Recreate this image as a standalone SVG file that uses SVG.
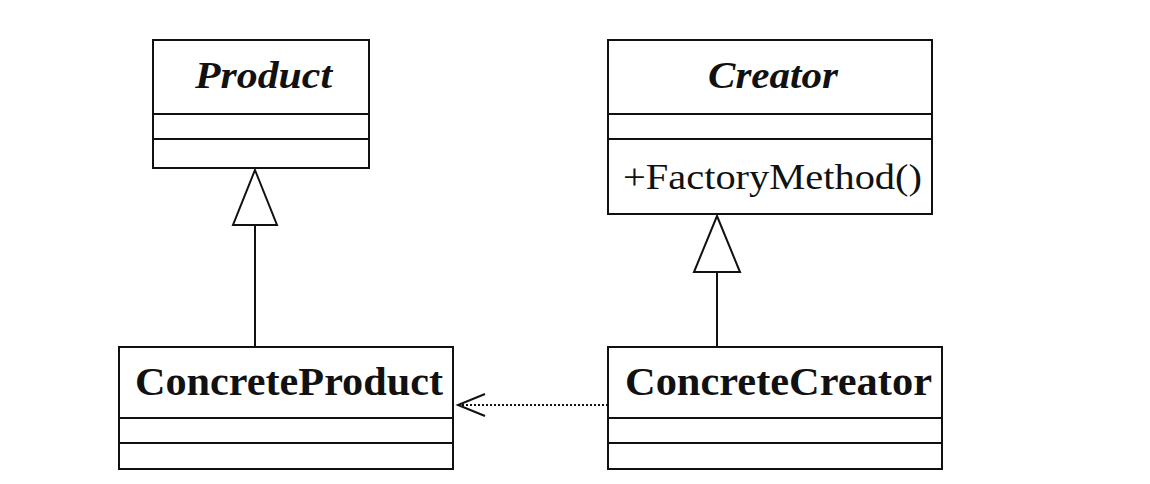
<svg xmlns="http://www.w3.org/2000/svg" width="1150" height="484" viewBox="0 0 1150 484">
<style>
.box{fill:#fff;stroke:#111;stroke-width:2}
.sep{stroke:#111;stroke-width:2}
.t{font-family:"Liberation Serif","Times New Roman",serif;fill:#111}
.abs{font-weight:bold;font-style:italic;font-size:38px}
.cls{font-weight:bold;font-size:40px}
.op{font-size:36px}
.edge{stroke:#111;stroke-width:2;fill:none}
</style>
<defs>
<marker id="gen" viewBox="0 0 48 58" refX="24" refY="1" markerWidth="48" markerHeight="58" markerUnits="userSpaceOnUse" orient="auto-start-reverse">
<path d="M24 1 L46 56 L2 56 Z" fill="#fff" stroke="#111" stroke-width="2"/>
</marker>
</defs>
<rect width="1150" height="484" fill="#fff"/>
<g id="connectors">
<line class="edge" x1="255" y1="347" x2="255" y2="225"/>
<path d="M255 170 L277 225 L233 225 Z" fill="#fff" stroke="#111" stroke-width="2"/>
<line class="edge" x1="717" y1="347" x2="717" y2="272"/>
<path d="M717 216 L740 272 L694 272 Z" fill="#fff" stroke="#111" stroke-width="2"/>
<line class="edge" x1="608" y1="405" x2="459" y2="405" stroke-dasharray="2 2"/>
<path class="edge" d="M485 394 L458 405 L485 416"/>
</g>
<g id="Product">
<rect class="box" x="153" y="40" width="216" height="128"/>
<line class="sep" x1="153" y1="114" x2="369" y2="114"/>
<line class="sep" x1="153" y1="139" x2="369" y2="139"/>
<text class="t abs" x="195" y="88" textLength="137" lengthAdjust="spacingAndGlyphs">Product</text>
</g>
<g id="Creator">
<rect class="box" x="608" y="40" width="324" height="174"/>
<line class="sep" x1="608" y1="114" x2="932" y2="114"/>
<line class="sep" x1="608" y1="139" x2="932" y2="139"/>
<text class="t abs" x="708" y="88" textLength="130" lengthAdjust="spacingAndGlyphs">Creator</text>
<text class="t op" x="623" y="189" textLength="299" lengthAdjust="spacingAndGlyphs">+FactoryMethod()</text>
</g>
<g id="ConcreteProduct">
<rect class="box" x="119" y="347" width="334" height="122"/>
<line class="sep" x1="119" y1="418" x2="453" y2="418"/>
<line class="sep" x1="119" y1="443" x2="453" y2="443"/>
<text class="t cls" x="135" y="395" textLength="308" lengthAdjust="spacingAndGlyphs">ConcreteProduct</text>
</g>
<g id="ConcreteCreator">
<rect class="box" x="608" y="347" width="334" height="122"/>
<line class="sep" x1="608" y1="418" x2="942" y2="418"/>
<line class="sep" x1="608" y1="443" x2="942" y2="443"/>
<text class="t cls" x="625" y="395" textLength="307" lengthAdjust="spacingAndGlyphs">ConcreteCreator</text>
</g>
</svg>
